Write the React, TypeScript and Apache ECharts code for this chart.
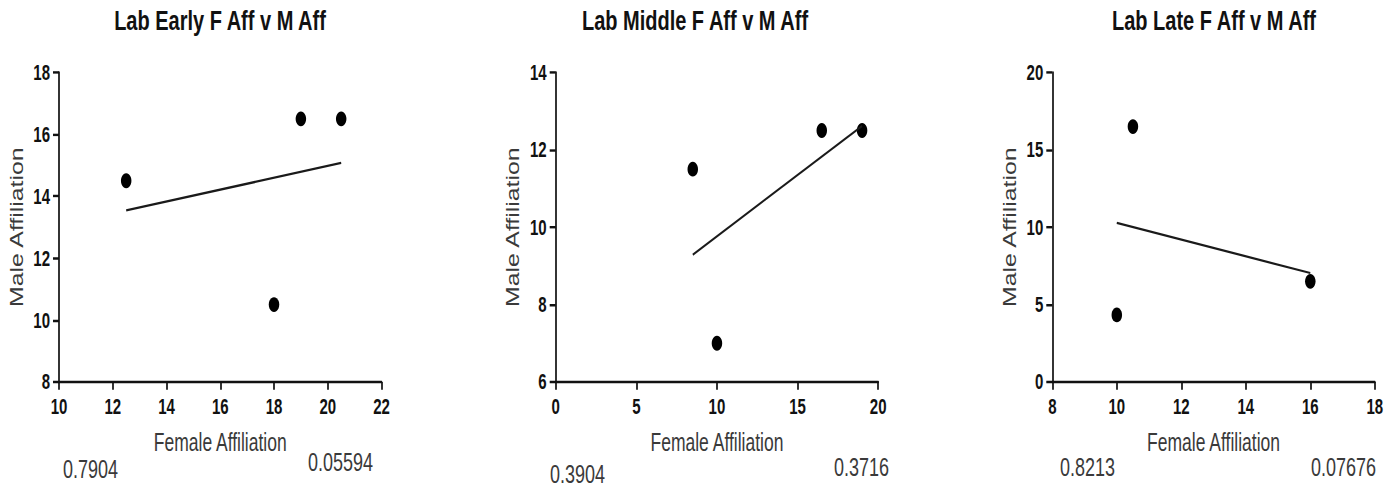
import React, { useEffect, useRef } from "react";
import * as echarts from "echarts";

// Three affiliation scatter panels (Early / Middle / Late) with a least-squares fit line
// and the fit statistics printed underneath each panel.

const panelTitles = [
  "Lab Early F Aff v M Aff",
  "Lab Middle F Aff v M Aff",
  "Lab Late F Aff v M Aff",
];

const earlyFemale = [12.5, 18, 19, 20.5];
const earlyMale = [14.5, 10.5, 16.5, 16.5];
const middleFemale = [8.5, 10, 16.5, 19];
const middleMale = [11.5, 7, 12.5, 12.5];
const lateFemale = [10, 10.5, 16];
const lateMale = [4.333, 16.5, 6.5];

const femaleSets = [earlyFemale, middleFemale, lateFemale];
const maleSets = [earlyMale, middleMale, lateMale];

// axis ranges per panel
const xMin = [10, 0, 8];
const xMax = [22, 20, 18];
const xStep = [2, 5, 2];
const yMin = [8, 6, 0];
const yMax = [18, 14, 20];
const yStep = [2, 2, 5];

// fit statistics shown below each panel
const pValueLabels = ["0.7904", "0.3904", "0.8213"];
const rSquaredLabels = ["0.05594", "0.3716", "0.07676"];

const X_NAME = "Female Affiliation";
const Y_NAME = "Male Affiliation";

// the figure is drawn on a shorter canvas and stretched vertically
const WIDTH = 1395;
const HEIGHT = 489;
const STRETCH = 1.42;
const BASE_H = HEIGHT / STRETCH;

const FONT = "'Liberation Sans', Arial, Helvetica, sans-serif";

const gridLeft = [59, 555.7, 1052.3];
const gridWidth = 322.5;
const gridTop = 51;
const gridHeight = 218;
const titleCenter = [220, 695, 1214];

const pLabelPos = [
  [63, 330.3],
  [550, 333.8],
  [1060, 328.9],
];
const rLabelPos = [
  [308, 325.4],
  [834, 328.9],
  [1311, 328.9],
];

function fitLine(xs: number[], ys: number[]): number[][] {
  const n = xs.length;
  const mx = xs.reduce((a, b) => a + b, 0) / n;
  const my = ys.reduce((a, b) => a + b, 0) / n;
  let sxy = 0;
  let sxx = 0;
  for (let i = 0; i < n; i++) {
    sxy += (xs[i] - mx) * (ys[i] - my);
    sxx += (xs[i] - mx) * (xs[i] - mx);
  }
  const slope = sxy / sxx;
  const x0 = Math.min(...xs);
  const x1 = Math.max(...xs);
  return [
    [x0, my + slope * (x0 - mx)],
    [x1, my + slope * (x1 - mx)],
  ];
}

export default function App() {
  const ref = useRef<HTMLDivElement>(null);

  useEffect(() => {
    if (!ref.current) return;
    const chart = echarts.init(ref.current, undefined, { renderer: "svg" });

    const axisLineStyle = { color: "#111", width: 1.7 };
    const idx = [0, 1, 2];

    const option: any = {
      animation: false,
      backgroundColor: "#fff",
      title: idx.map((i) => ({
        text: panelTitles[i],
        left: titleCenter[i],
        top: 4,
        textAlign: "center",
        padding: 0,
        textStyle: {
          fontFamily: FONT,
          fontSize: 20,
          fontWeight: "bold",
          color: "#111",
        },
      })),
      grid: idx.map((i) => ({
        left: gridLeft[i],
        top: gridTop,
        width: gridWidth,
        height: gridHeight,
      })),
      xAxis: idx.map((i) => ({
        gridIndex: i,
        type: "value",
        min: xMin[i],
        max: xMax[i],
        interval: xStep[i],
        name: X_NAME,
        nameLocation: "middle",
        nameGap: 34,
        nameTextStyle: { fontFamily: FONT, fontSize: 17.5, color: "#3a3a3a" },
        axisLine: { show: true, onZero: false, lineStyle: axisLineStyle },
        axisTick: { show: true, length: 5.5, lineStyle: axisLineStyle },
        axisLabel: {
          margin: 10,
          fontFamily: FONT,
          fontSize: 15,
          fontWeight: "bold",
          color: "#111",
        },
        splitLine: { show: false },
      })),
      yAxis: idx.map((i) => ({
        gridIndex: i,
        type: "value",
        min: yMin[i],
        max: yMax[i],
        interval: yStep[i],
        name: Y_NAME,
        nameLocation: "middle",
        nameGap: 33,
        nameTextStyle: { fontFamily: FONT, fontSize: 17.5, color: "#3a3a3a" },
        axisLine: { show: true, onZero: false, lineStyle: axisLineStyle },
        axisTick: { show: true, length: 6, lineStyle: axisLineStyle },
        axisLabel: {
          margin: 9,
          fontFamily: FONT,
          fontSize: 15,
          fontWeight: "bold",
          color: "#111",
        },
        splitLine: { show: false },
      })),
      series: [
        ...idx.map((i) => ({
          type: "scatter",
          xAxisIndex: i,
          yAxisIndex: i,
          symbol: "circle",
          symbolSize: 10.5,
          itemStyle: { color: "#000", opacity: 1 },
          data: femaleSets[i].map((x, k) => [x, maleSets[i][k]]),
        })),
        ...idx.map((i) => ({
          type: "line",
          xAxisIndex: i,
          yAxisIndex: i,
          showSymbol: false,
          symbol: "none",
          lineStyle: { color: "#1a1a1a", width: 1.6 },
          data: fitLine(femaleSets[i], maleSets[i]),
        })),
      ],
      graphic: [
        ...idx.map((i) => ({
          type: "text",
          x: pLabelPos[i][0],
          y: pLabelPos[i][1],
          style: {
            text: pValueLabels[i],
            font: `18px ${FONT}`,
            fill: "#3a3a3a",
            textAlign: "left",
            textVerticalAlign: "middle",
          },
        })),
        ...idx.map((i) => ({
          type: "text",
          x: rLabelPos[i][0],
          y: rLabelPos[i][1],
          style: {
            text: rSquaredLabels[i],
            font: `18px ${FONT}`,
            fill: "#3a3a3a",
            textAlign: "left",
            textVerticalAlign: "middle",
          },
        })),
      ],
    };

    chart.setOption(option);
    return () => chart.dispose();
  }, []);

  return (
    <div
      style={{
        position: "absolute",
        left: 0,
        top: 0,
        width: WIDTH,
        height: HEIGHT,
        overflow: "hidden",
        background: "#fff",
      }}
    >
      <div
        ref={ref}
        style={{
          width: WIDTH,
          height: BASE_H,
          transform: `scaleY(${STRETCH})`,
          transformOrigin: "0 0",
        }}
      />
    </div>
  );
}
